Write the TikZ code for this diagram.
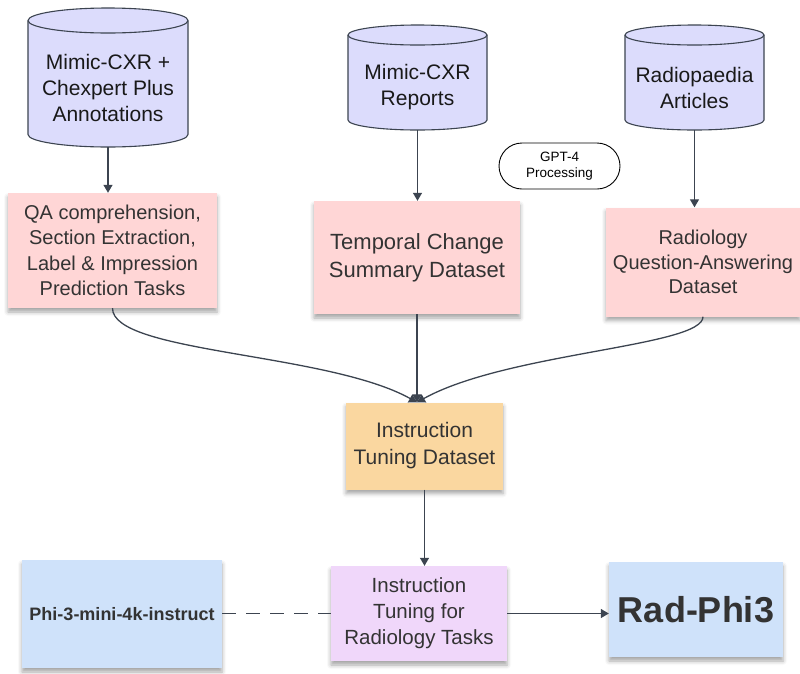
\documentclass[tikz,border=0pt]{standalone}
\usepackage{fontspec}
\setmainfont{Liberation Sans}
\usetikzlibrary{shapes.misc, arrows.meta, shadows.blur, positioning}

\definecolor{cylfill}{HTML}{DCDCFC}
\definecolor{notepink}{HTML}{FFD6D6}
\definecolor{noteorange}{HTML}{FAD7A0}
\definecolor{notepurple}{HTML}{F0D7FA}
\definecolor{noteblue}{HTML}{CFE2FA}
\definecolor{linegray}{HTML}{3C4450}
\definecolor{textgray}{HTML}{333333}

\tikzset{
  dbline/.style={draw=linegray, line width=1.1pt, fill=cylfill},
  dbtext/.style={align=center, inner sep=0pt, text=black!90, font=\fontsize{21}{26}\selectfont},
  note/.style={rectangle, inner sep=0pt, align=center, text=textgray,
    blur shadow={shadow xshift=0pt, shadow yshift=-4pt, shadow opacity=35, shadow blur radius=4pt}},
  link/.style={draw=linegray, line width=1.3pt, -{Triangle[length=8pt,width=9pt]}},
}

\begin{document}
\begin{tikzpicture}[x=1pt, y=-1pt]
  \useasboundingbox (0,0) rectangle (800,673);
  % Sources (cylinders): name/centre x/top/width/height/cap
  \foreach \nm/\cx/\ct/\w/\h/\ry in {cxr/108/8/160/139/12.5, rep/417.5/25/139/105/10, rad/694.5/25/139/105/10} {
    \pgfmathsetmacro\rx{\w/2}
    \filldraw[dbline] ({\cx-\rx},{\ct+\ry}) -- ({\cx-\rx},{\ct+\h-\ry})
      arc[start angle=180, end angle=360, x radius=\rx pt, y radius=\ry pt] -- ({\cx+\rx},{\ct+\ry})
      arc[start angle=0, end angle=180, x radius=\rx pt, y radius=\ry pt] -- cycle;
    \draw[dbline, fill=none] ({\cx-\rx},{\ct+\ry}) arc[start angle=180, end angle=360, x radius=\rx pt, y radius=\ry pt];
    \coordinate (\nm) at (\cx,{\ct+\h});
  }
  \node[dbtext] (cxrlbl) at (108,88) {Mimic-CXR +\\Chexpert Plus\\Annotations};
  \node[dbtext] (replbl) at (417.5,87.5) {Mimic-CXR\\Reports};
  \node[dbtext] (radlbl) at (694.5,87.5) {Radiopaedia\\Articles};
  % GPT-4 label
  \node[rounded rectangle, draw=black, line width=0.9pt, fill=white, minimum width=121pt, minimum height=46pt,
    inner sep=0pt, align=center, font=\fontsize{13.5}{16}\selectfont] (gpt) at (559.5,166) {GPT-4\\Processing};
  % Datasets
  \node[note, fill=notepink, minimum width=209pt, minimum height=115pt, font=\fontsize{20}{25.5}\selectfont] (tasks) at (112.5,250.5)
    {QA comprehension,\\Section Extraction,\\Label \& Impression\\Prediction Tasks};
  \node[note, fill=notepink, minimum width=206pt, minimum height=113pt, font=\fontsize{22}{28}\selectfont] (temp) at (417,257.5)
    {Temporal Change\\Summary Dataset};
  \node[note, fill=notepink, minimum width=194pt, minimum height=109pt, font=\fontsize{20}{24.5}\selectfont] (qa) at (703,262)
    {Radiology\\Question-Answering\\Dataset};
  % Instruction tuning dataset
  \node[note, fill=noteorange, minimum width=157pt, minimum height=87pt, font=\fontsize{21}{27}\selectfont] (itd) at (424.5,446)
    {Instruction\\Tuning Dataset};
  % Bottom row
  \node[note, fill=noteblue, minimum width=200pt, minimum height=108pt, font=\bfseries\fontsize{18}{21}\selectfont] (phi) at (122,614)
    {Phi-3-mini-4k-instruct};
  \node[note, fill=notepurple, minimum width=176pt, minimum height=95pt, font=\fontsize{20.5}{26}\selectfont] (tune) at (419,613.5)
    {Instruction\\Tuning for\\Radiology Tasks};
  \node[note, fill=noteblue, minimum width=174pt, minimum height=95pt, font=\bfseries\fontsize{36}{40}\selectfont] (out) at (696,609.5)
    {Rad-Phi3};
  % Arrows
  \coordinate (merge) at (temp.south |- itd.north);
  \draw[link] (cxr) -- (cxr |- tasks.north);
  \draw[link] (rep) -- (rep |- temp.north);
  \draw[link] (rad) -- (rad |- qa.north);
  \draw[link] (tasks.south) .. controls +(0,45) and +(-90,-50) .. (merge);
  \draw[link] (temp.south) -- (merge);
  \draw[link] (qa.south) .. controls +(0,30) and +(90,-50) .. (merge);
  \draw[link] (itd.south) -- (itd.south |- tune.north);
  \draw[draw=linegray, line width=1.3pt, dash pattern=on 14pt off 10pt] (phi.east |- tune.west) -- (tune.west);
  \draw[link] (tune.east) -- (tune.east -| out.west);
\end{tikzpicture}
\end{document}
